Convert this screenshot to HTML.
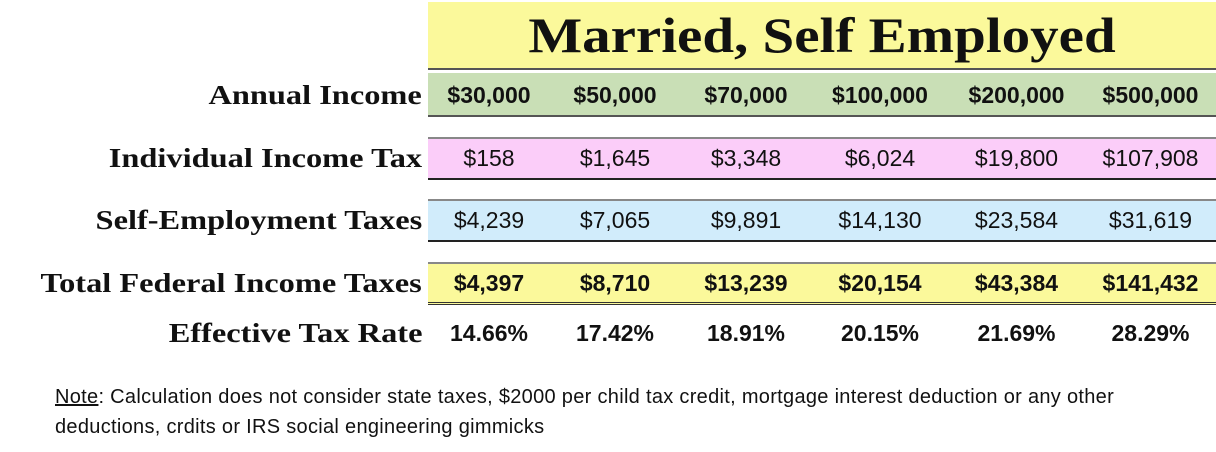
<!DOCTYPE html>
<html><head><style>
body{margin:0;width:1216px;height:452px;background:#fff;position:relative;overflow:hidden;font-family:"Liberation Sans",sans-serif}
.a{position:absolute}
.lab{position:absolute;right:794px;font-family:"Liberation Serif",serif;font-weight:bold;font-size:27px;color:#111;white-space:nowrap;transform:scaleX(1.2);transform-origin:right center}
.row{position:absolute;left:428px;width:788px;display:flex}
.row div{text-align:center;font-size:23px;color:#111}
.c1{width:122px}.c2{width:130px}.c3{width:132px}.c4{width:136px}.c5{width:137px}.c6{width:131px}
</style></head><body>
<div class="a" style="left:428px;top:2px;width:788px;height:66px;background:#fbf99b;border-bottom:2px solid #555"></div>
<div class="a" style="left:428px;top:4px;width:788px;text-align:center;font-family:'Liberation Serif',serif;font-weight:bold;font-size:50px;line-height:62px;color:#111;transform:scaleX(1.14)">Married, Self Employed</div>

<div class="a" style="left:428px;top:73px;width:788px;height:42px;background:#c9dfb6;border-bottom:2px solid #555"></div>
<div class="lab" style="top:80px">Annual Income</div>
<div class="row" style="top:82px"><div class="c1" style="font-weight:bold">$30,000</div><div class="c2" style="font-weight:bold">$50,000</div><div class="c3" style="font-weight:bold">$70,000</div><div class="c4" style="font-weight:bold">$100,000</div><div class="c5" style="font-weight:bold">$200,000</div><div class="c6" style="font-weight:bold">$500,000</div></div>

<div class="a" style="left:428px;top:137px;width:788px;height:39px;background:#fbcdf9;border-top:2px solid #888;border-bottom:2px solid #222"></div>
<div class="lab" style="top:143px">Individual Income Tax</div>
<div class="row" style="top:145px"><div class="c1">$158</div><div class="c2">$1,645</div><div class="c3">$3,348</div><div class="c4">$6,024</div><div class="c5">$19,800</div><div class="c6">$107,908</div></div>

<div class="a" style="left:428px;top:199px;width:788px;height:39px;background:#d1ecfb;border-top:2px solid #888;border-bottom:2px solid #222"></div>
<div class="lab" style="top:205px">Self-Employment Taxes</div>
<div class="row" style="top:207px"><div class="c1">$4,239</div><div class="c2">$7,065</div><div class="c3">$9,891</div><div class="c4">$14,130</div><div class="c5">$23,584</div><div class="c6">$31,619</div></div>

<div class="a" style="left:428px;top:262px;width:788px;height:38px;background:#fbf99b;border-top:2px solid #888;border-bottom:3px double #333"></div>
<div class="lab" style="top:268px">Total Federal Income Taxes</div>
<div class="row" style="top:270px"><div class="c1" style="font-weight:bold">$4,397</div><div class="c2" style="font-weight:bold">$8,710</div><div class="c3" style="font-weight:bold">$13,239</div><div class="c4" style="font-weight:bold">$20,154</div><div class="c5" style="font-weight:bold">$43,384</div><div class="c6" style="font-weight:bold">$141,432</div></div>

<div class="lab" style="top:318px">Effective Tax Rate</div>
<div class="row" style="top:320px"><div class="c1" style="font-weight:bold">14.66%</div><div class="c2" style="font-weight:bold">17.42%</div><div class="c3" style="font-weight:bold">18.91%</div><div class="c4" style="font-weight:bold">20.15%</div><div class="c5" style="font-weight:bold">21.69%</div><div class="c6" style="font-weight:bold">28.29%</div></div>

<div class="a" style="left:55px;top:382px;width:1110px;font-size:20px;letter-spacing:0.3px;line-height:30px;color:#111"><u>Note</u>: Calculation does not consider state taxes, $2000 per child tax credit, mortgage interest deduction or any other deductions, crdits or IRS social engineering gimmicks</div>
</body></html>
